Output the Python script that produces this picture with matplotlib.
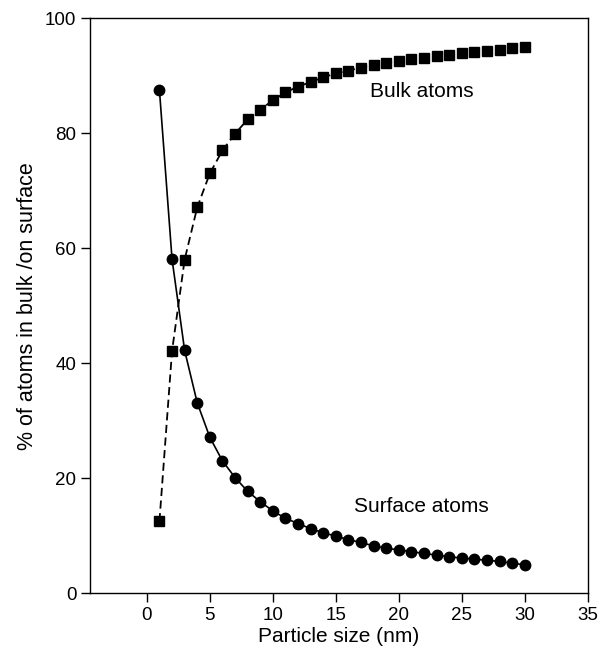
import matplotlib
matplotlib.use("Agg")
import matplotlib.pyplot as plt

plt.rcParams['font.family'] = ['Liberation Sans', 'DejaVu Sans']

# particle size in nm
size_nm = list(range(1, 31))

# % of atoms on the surface
surface_pct = [87.5, 58.1, 42.2, 33.1, 27.1, 23.0, 20.1, 17.7, 15.9, 14.3,
               13.0, 12.1, 11.2, 10.5, 9.9, 9.3, 8.8, 8.2, 7.8, 7.5,
               7.2, 6.9, 6.6, 6.3, 6.1, 5.9, 5.7, 5.5, 5.2, 4.9]

# % of atoms in the bulk
bulk_pct = [12.5, 42.1, 58.0, 67.1, 73.0, 77.0, 79.9, 82.4, 84.1, 85.7,
            87.1, 88.1, 88.9, 89.7, 90.4, 90.9, 91.4, 91.9, 92.2, 92.6,
            92.9, 93.1, 93.4, 93.6, 93.9, 94.1, 94.3, 94.5, 94.8, 95.0]

fig = plt.figure(figsize=(6.01, 6.51), dpi=100)
ax = fig.add_axes([0.150, 0.089, 0.828, 0.883])

ax.plot(size_nm, surface_pct, color='black', linestyle='-', linewidth=1.2,
        marker='o', markersize=7.5, zorder=3)
ax.plot(size_nm, bulk_pct, color='black', linestyle=(0, (4.5, 2.5)), linewidth=1.3,
        marker='s', markersize=7.5, zorder=3)

ax.text(21.8, 87.2, 'Bulk atoms', ha='center', va='center', fontsize=15)
ax.text(21.8, 15.0, 'Surface atoms', ha='center', va='center', fontsize=15)

ax.set_xlim(-4.5, 35)
ax.set_ylim(0, 100)
ax.set_xticks([0, 5, 10, 15, 20, 25, 30, 35])
ax.set_yticks([0, 20, 40, 60, 80, 100])
ax.tick_params(direction='out', length=6.5, width=1, labelsize=13.5)
for s in ax.spines.values():
    s.set_linewidth(1)

ax.set_xlabel('Particle size (nm)', fontsize=15, labelpad=2)
ax.set_ylabel('% of atoms in bulk /on surface', fontsize=15.5, labelpad=5)

fig.savefig('out.png', dpi=100)
